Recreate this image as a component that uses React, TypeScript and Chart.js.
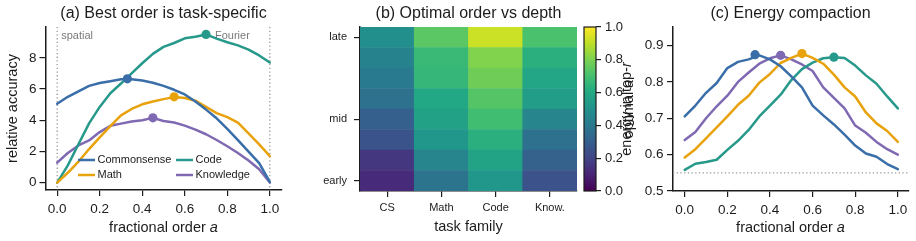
import { useEffect, useRef } from "react";
import { Chart, registerables } from "chart.js";

Chart.register(...registerables);

const WIDTH = 916;
const HEIGHT = 241;
const FONT = "'Liberation Sans', Arial, Helvetica, sans-serif";
const INK = "#1c1c1c";
const MUTED = "#7a7a7a";

// ---------- shared ----------
const ORDER = [0, 0.05, 0.1, 0.15, 0.2, 0.25, 0.3, 0.35, 0.4, 0.45, 0.5, 0.55, 0.6, 0.65, 0.7, 0.75, 0.8, 0.85, 0.9, 0.95, 1.0];
const ORDER_TICKS = [0, 0.2, 0.4, 0.6, 0.8, 1.0];
const TASKS = ["Commonsense", "Math", "Code", "Knowledge"];
const TASK_COLORS = ["#3a6ea8", "#e8a20c", "#27998b", "#7f69b2"];

// ---------- (a) relative accuracy ----------
const ACC_COMMONSENSE = [5.05, 5.5, 5.85, 6.2, 6.38, 6.5, 6.62, 6.62, 6.55, 6.4, 6.2, 5.95, 5.65, 5.2, 4.68, 4.12, 3.45, 2.72, 1.98, 1.25, 0.05];
const ACC_MATH = [0, 0.63, 1.34, 2.15, 2.9, 3.62, 4.31, 4.72, 5.02, 5.2, 5.35, 5.48, 5.42, 5.25, 4.85, 4.45, 4.2, 3.85, 3.15, 2.45, 1.7];
const ACC_CODE = [0, 1.1, 2.46, 3.8, 4.85, 5.73, 6.35, 7.0, 7.65, 8.25, 8.7, 8.95, 9.25, 9.35, 9.5, 9.23, 9.0, 8.8, 8.52, 8.15, 7.7];
const ACC_KNOWLEDGE = [1.28, 1.9, 2.38, 2.7, 3.24, 3.64, 3.78, 3.92, 4.0, 4.15, 3.95, 3.85, 3.65, 3.4, 3.1, 2.73, 2.33, 1.9, 1.42, 0.85, 0.0];
const ACC_PEAK_ORDER = [0.33, 0.55, 0.7, 0.45];
const ACC_PEAK_VALUE = [6.65, 5.5, 9.5, 4.15];
const ACC_TICKS = [0, 2, 4, 6, 8];

// ---------- (b) optimal order per depth (rows early -> late) ----------
const FAMILIES = ["CS", "Math", "Code", "Know."];
const DEPTH_ROWS = [0, 1, 2, 3, 4, 5, 6, 7];
const BEST_CS = [0.12, 0.16, 0.26, 0.3, 0.37, 0.41, 0.44, 0.49];
const BEST_MATH = [0.38, 0.45, 0.52, 0.57, 0.6, 0.66, 0.67, 0.74];
const BEST_CODE = [0.52, 0.58, 0.63, 0.69, 0.73, 0.78, 0.81, 0.92];
const BEST_KNOW = [0.25, 0.31, 0.37, 0.45, 0.55, 0.59, 0.63, 0.71];
const DEPTH_TICK_POS = [0.5, 3.5, 7.5];
const DEPTH_LABELS = ["early", "mid", "late"];
const CBAR_TICKS = [0, 0.2, 0.4, 0.6, 0.8, 1.0];

// ---------- (c) energy compaction ----------
const ENERGY_COMMONSENSE = [0.705, 0.735, 0.77, 0.797, 0.838, 0.855, 0.862, 0.873, 0.862, 0.843, 0.815, 0.785, 0.735, 0.708, 0.683, 0.655, 0.625, 0.603, 0.594, 0.574, 0.56];
const ENERGY_MATH = [0.592, 0.615, 0.645, 0.675, 0.705, 0.737, 0.762, 0.798, 0.822, 0.852, 0.866, 0.878, 0.866, 0.85, 0.82, 0.785, 0.76, 0.716, 0.686, 0.665, 0.635];
const ENERGY_CODE = [0.558, 0.575, 0.58, 0.586, 0.613, 0.638, 0.668, 0.705, 0.735, 0.765, 0.805, 0.835, 0.853, 0.865, 0.868, 0.866, 0.845, 0.818, 0.795, 0.76, 0.727];
const ENERGY_KNOWLEDGE = [0.64, 0.662, 0.7, 0.733, 0.762, 0.8, 0.826, 0.85, 0.865, 0.873, 0.862, 0.848, 0.83, 0.785, 0.756, 0.727, 0.68, 0.66, 0.635, 0.615, 0.6];
const ENERGY_PEAK_ORDER = [0.33, 0.55, 0.7, 0.45];
const ENERGY_PEAK_VALUE = [0.875, 0.878, 0.868, 0.873];
const ENERGY_BASELINE = 0.55;
const ENERGY_TICKS = [0.5, 0.6, 0.7, 0.8, 0.9];

// ---------- colour map ----------
const VIRIDIS = ["#440154", "#482475", "#414487", "#355f8d", "#2a788e", "#21918c", "#22a884", "#44bf70", "#7ad151", "#bddf26", "#fde725"];

function hexToRgb(h: string) {
  return [parseInt(h.slice(1, 3), 16), parseInt(h.slice(3, 5), 16), parseInt(h.slice(5, 7), 16)];
}

function viridis(t: number) {
  const x = Math.min(1, Math.max(0, t)) * (VIRIDIS.length - 1);
  const i = Math.min(VIRIDIS.length - 2, Math.floor(x));
  const f = x - i;
  const a = hexToRgb(VIRIDIS[i]);
  const b = hexToRgb(VIRIDIS[i + 1]);
  const c = a.map((v, k) => Math.round(v + (b[k] - v) * f));
  return `rgb(${c[0]},${c[1]},${c[2]})`;
}

// ---------- helpers ----------
type Run = { text: string; italic?: boolean };

function drawRuns(ctx: CanvasRenderingContext2D, runs: Run[], x: number, y: number, size: number, color: string, rotate = false, align: "center" | "left" = "center") {
  ctx.save();
  ctx.translate(x, y);
  if (rotate) ctx.rotate(-Math.PI / 2);
  const fonts = runs.map((r) => `${r.italic ? "italic " : ""}${size}px ${FONT}`);
  let total = 0;
  const widths = runs.map((r, i) => {
    ctx.font = fonts[i];
    const w = ctx.measureText(r.text).width;
    total += w;
    return w;
  });
  let cx = align === "center" ? -total / 2 : 0;
  ctx.textBaseline = "middle";
  ctx.textAlign = "left";
  ctx.fillStyle = color;
  runs.forEach((r, i) => {
    ctx.font = fonts[i];
    ctx.fillText(r.text, cx, 0);
    cx += widths[i];
  });
  ctx.restore();
}

function fixedTicks(values: number[]) {
  return (scale: any) => {
    scale.ticks = values.map((v) => ({ value: v }));
  };
}

function axisLook(fontSize: number, pad: number, tickLength = 6) {
  return {
    grid: { display: true, drawOnChartArea: false, drawTicks: true, tickLength, tickWidth: 1.2, tickColor: INK, color: INK, lineWidth: 1.2 },
    border: { display: true, color: INK, width: 1.5 },
    ticks: { color: INK, font: { family: FONT, size: fontSize }, padding: pad, autoSkip: false, maxRotation: 0, minRotation: 0 },
  };
}

function baseOptions(padding: { left: number; right: number; top: number; bottom: number }) {
  return {
    responsive: false,
    maintainAspectRatio: false,
    animation: false as const,
    devicePixelRatio: 1,
    events: [] as any[],
    layout: { padding },
    plugins: { legend: { display: false }, tooltip: { enabled: false }, title: { display: false } },
  };
}

function lineSets(values: number[][]) {
  return TASKS.map((name, i) => ({
    type: "line" as const,
    label: name,
    data: ORDER.map((a, j) => ({ x: a, y: values[i][j] })),
    borderColor: TASK_COLORS[i],
    backgroundColor: TASK_COLORS[i],
    borderWidth: 2.5,
    borderJoinStyle: "round" as const,
    borderCapStyle: "round" as const,
    pointRadius: 0,
    tension: 0,
    order: 2,
  }));
}

function peakSets(xs: number[], ys: number[]) {
  return TASKS.map((name, i) => ({
    type: "scatter" as const,
    label: `${name} peak`,
    data: [{ x: xs[i], y: ys[i] }],
    pointRadius: 4.6,
    pointBackgroundColor: TASK_COLORS[i],
    pointBorderColor: TASK_COLORS[i],
    pointBorderWidth: 0,
    order: 1,
  }));
}

// ---------- (a) ----------
function buildAccuracy(canvas: HTMLCanvasElement) {
  const look = axisLook(13.5, 5);
  const lookY = axisLook(13.5, 3);
  const annotations = {
    id: "accuracyDecor",
    beforeDatasetsDraw(chart: any) {
      const { ctx, chartArea, scales } = chart;
      ctx.save();
      ctx.strokeStyle = "#9a9a9a";
      ctx.lineWidth = 1.3;
      ctx.setLineDash([1.3, 2.4]);
      [0, 1].forEach((a) => {
        const px = scales.x.getPixelForValue(a);
        ctx.beginPath();
        ctx.moveTo(px, chartArea.top);
        ctx.lineTo(px, chartArea.bottom);
        ctx.stroke();
      });
      ctx.restore();
      drawRuns(ctx, [{ text: "spatial" }], scales.x.getPixelForValue(0) + 4, 36, 11, MUTED, false, "left");
      drawRuns(ctx, [{ text: "Fourier" }], 215, 36, 11, MUTED, false, "left");
    },
    afterDraw(chart: any) {
      const { ctx } = chart;
      drawRuns(ctx, [{ text: "(a) Best order is task-specific" }], 163.5, 13.5, 16, INK);
      drawRuns(ctx, [{ text: "fractional order " }, { text: "a", italic: true }], 163.5, 228, 14.5, INK);
      drawRuns(ctx, [{ text: "relative accuracy" }], 13, 108.5, 14.5, INK, true);
      // legend, two columns filled column-wise
      const colX = [78, 176];
      const rowY = [160, 175];
      TASKS.forEach((name, i) => {
        const x = colX[Math.floor(i / 2)];
        const y = rowY[i % 2];
        ctx.save();
        ctx.strokeStyle = TASK_COLORS[i];
        ctx.lineWidth = 2.5;
        ctx.beginPath();
        ctx.moveTo(x, y);
        ctx.lineTo(x + 17, y);
        ctx.stroke();
        ctx.restore();
        drawRuns(ctx, [{ text: name }], x + 19.5, y, 11, INK, false, "left");
      });
    },
  };
  return new Chart(canvas, {
    type: "line",
    data: { datasets: [...lineSets([ACC_COMMONSENSE, ACC_MATH, ACC_CODE, ACC_KNOWLEDGE]), ...peakSets(ACC_PEAK_ORDER, ACC_PEAK_VALUE)] as any },
    options: {
      ...baseOptions({ left: 5.5, right: WIDTH - 281.5, top: 27, bottom: 6 }),
      scales: {
        x: {
          type: "linear",
          min: -0.055,
          max: 1.055,
          afterBuildTicks: fixedTicks(ORDER_TICKS),
          afterFit: (s: any) => { s.height = 45; },
          ...look,
          ticks: { ...look.ticks, callback: (v: any) => Number(v).toFixed(1) },
        },
        y: {
          type: "linear",
          min: -0.475,
          max: 9.975,
          afterBuildTicks: fixedTicks(ACC_TICKS),
          afterFit: (s: any) => { s.width = 40; },
          ...lookY,
          ticks: { ...lookY.ticks, callback: (v: any) => String(Math.round(Number(v))) },
        },
      },
    } as any,
    plugins: [annotations],
  });
}

// ---------- (b) ----------
function buildHeatmap(canvas: HTMLCanvasElement) {
  const columns = [BEST_CS, BEST_MATH, BEST_CODE, BEST_KNOW];
  const datasets = DEPTH_ROWS.map((r) => ({
    type: "bar" as const,
    label: `depth ${r}`,
    data: FAMILIES.map(() => [r, r + 1]),
    backgroundColor: FAMILIES.map((_, c) => viridis(columns[c][r])),
    borderWidth: 0,
    grouped: false,
    barPercentage: 1,
    categoryPercentage: 1,
  }));
  const lookX = axisLook(11, 4);
  const lookY = axisLook(11, 7);
  const labels = {
    id: "heatmapLabels",
    afterDraw(chart: any) {
      const { ctx } = chart;
      drawRuns(ctx, [{ text: "(b) Optimal order vs depth" }], 468.5, 13.5, 16, INK);
      drawRuns(ctx, [{ text: "task family" }], 468.5, 227, 14.5, INK);
    },
  };
  return new Chart(canvas, {
    type: "bar",
    data: { labels: FAMILIES, datasets: datasets as any },
    options: {
      ...baseOptions({ left: 315, right: WIDTH - 577, top: 27, bottom: 5 }),
      scales: {
        x: {
          type: "category",
          offset: true,
          afterFit: (s: any) => { s.height = 45; },
          ...lookX,
          grid: { ...lookX.grid, offset: false },
        },
        y: {
          type: "linear",
          min: 0,
          max: 8,
          afterBuildTicks: fixedTicks(DEPTH_TICK_POS),
          afterFit: (s: any) => { s.width = 45; },
          ...lookY,
          ticks: { ...lookY.ticks, callback: (_v: any, i: number) => DEPTH_LABELS[i] },
        },
      },
    } as any,
    plugins: [labels],
  });
}

// ---------- colour bar ----------
function buildColorbar(canvas: HTMLCanvasElement) {
  const look = axisLook(13, 4, 5);
  const bar = {
    id: "colorbarFill",
    beforeDraw(chart: any) {
      const { ctx, chartArea } = chart;
      const g = ctx.createLinearGradient(0, chartArea.bottom, 0, chartArea.top);
      VIRIDIS.forEach((c, k) => g.addColorStop(k / (VIRIDIS.length - 1), c));
      ctx.save();
      ctx.fillStyle = g;
      ctx.fillRect(chartArea.left, chartArea.top, chartArea.right - chartArea.left, chartArea.bottom - chartArea.top);
      ctx.restore();
    },
    afterDraw(chart: any) {
      const { ctx, chartArea } = chart;
      ctx.save();
      ctx.strokeStyle = INK;
      ctx.lineWidth = 1.2;
      ctx.strokeRect(chartArea.left, chartArea.top, chartArea.right - chartArea.left, chartArea.bottom - chartArea.top);
      ctx.restore();
      drawRuns(ctx, [{ text: "optimal " }, { text: "a", italic: true }], 629, 109, 14.5, INK, true);
    },
  };
  return new Chart(canvas, {
    type: "scatter",
    data: { datasets: [] },
    options: {
      ...baseOptions({ left: 584, right: WIDTH - 596 - 36, top: 27, bottom: 50 }),
      scales: {
        x: { type: "linear", display: false, min: 0, max: 1 },
        y: {
          type: "linear",
          position: "right",
          min: 0,
          max: 1,
          afterBuildTicks: fixedTicks(CBAR_TICKS),
          afterFit: (s: any) => { s.width = 36; },
          ...look,
          border: { display: false },
          ticks: { ...look.ticks, callback: (v: any) => Number(v).toFixed(1) },
        },
      },
    } as any,
    plugins: [bar],
  });
}

// ---------- (c) ----------
function buildEnergy(canvas: HTMLCanvasElement) {
  const look = axisLook(13.5, 5);
  const lookY = axisLook(13.5, 3.5);
  const decor = {
    id: "energyDecor",
    beforeDatasetsDraw(chart: any) {
      const { ctx, chartArea, scales } = chart;
      const py = scales.y.getPixelForValue(ENERGY_BASELINE);
      ctx.save();
      ctx.strokeStyle = "#9a9a9a";
      ctx.lineWidth = 1.3;
      ctx.setLineDash([1.3, 2.4]);
      ctx.beginPath();
      ctx.moveTo(chartArea.left, py);
      ctx.lineTo(chartArea.right, py);
      ctx.stroke();
      ctx.restore();
    },
    afterDraw(chart: any) {
      const { ctx } = chart;
      drawRuns(ctx, [{ text: "(c) Energy compaction" }], 790.5, 13.5, 16, INK);
      drawRuns(ctx, [{ text: "fractional order " }, { text: "a", italic: true }], 790.5, 228, 14.5, INK);
      drawRuns(ctx, [{ text: "energy in top-" }, { text: "r", italic: true }], 627, 109, 14.5, INK, true);
    },
  };
  return new Chart(canvas, {
    type: "line",
    data: { datasets: [...lineSets([ENERGY_COMMONSENSE, ENERGY_MATH, ENERGY_CODE, ENERGY_KNOWLEDGE]), ...peakSets(ENERGY_PEAK_ORDER, ENERGY_PEAK_VALUE)] as any },
    options: {
      ...baseOptions({ left: 673 - 40, right: WIDTH - 908.5, top: 27, bottom: 5 }),
      scales: {
        x: {
          type: "linear",
          min: -0.055,
          max: 1.05,
          afterBuildTicks: fixedTicks(ORDER_TICKS),
          afterFit: (s: any) => { s.height = 45; },
          ...look,
          ticks: { ...look.ticks, callback: (v: any) => Number(v).toFixed(1) },
        },
        y: {
          type: "linear",
          min: 0.5,
          max: 0.951,
          afterBuildTicks: fixedTicks(ENERGY_TICKS),
          afterFit: (s: any) => { s.width = 40; },
          ...lookY,
          ticks: { ...lookY.ticks, callback: (v: any) => Number(v).toFixed(1) },
        },
      },
    } as any,
    plugins: [decor],
  });
}

function ChartCanvas({ build }: { build: (c: HTMLCanvasElement) => Chart }) {
  const ref = useRef<HTMLCanvasElement>(null);
  useEffect(() => {
    if (!ref.current) return;
    const chart = build(ref.current);
    return () => chart.destroy();
  }, [build]);
  return (
    <canvas
      ref={ref}
      width={WIDTH}
      height={HEIGHT}
      style={{ position: "absolute", left: 0, top: 0, width: WIDTH, height: HEIGHT }}
    />
  );
}

export default function App() {
  return (
    <div style={{ position: "fixed", left: 0, top: 0, width: WIDTH, height: HEIGHT, background: "#ffffff", overflow: "hidden" }}>
      <ChartCanvas build={buildAccuracy} />
      <ChartCanvas build={buildHeatmap} />
      <ChartCanvas build={buildColorbar} />
      <ChartCanvas build={buildEnergy} />
    </div>
  );
}
